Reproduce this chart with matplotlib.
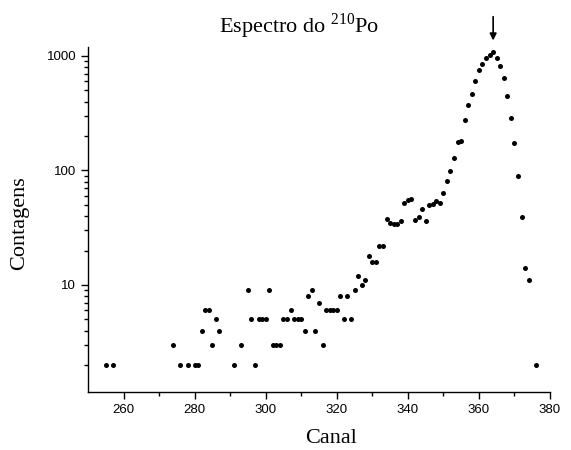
import matplotlib
matplotlib.use('Agg')
import matplotlib.pyplot as plt
from matplotlib.ticker import LogLocator, NullFormatter, FixedLocator

# Channel numbers and counts
canal = [255, 257, 274, 276, 278, 280, 281, 282, 283, 284, 285, 286, 287,
         291, 293, 295, 296, 297, 298, 299, 300, 301, 302, 303, 304, 305,
         306, 307, 308, 309, 310, 311, 312, 313, 314, 315, 316, 317, 318,
         319, 320, 321, 322, 323, 324, 325, 326, 327, 328, 329, 330, 331,
         332, 333, 334, 335, 336, 337, 338, 339, 340, 341, 342, 343, 344,
         345, 346, 347, 348, 349, 350, 351, 352, 353, 354, 355, 356, 357,
         358, 359, 360, 361, 362, 363, 364, 365, 366, 367, 368, 369, 370,
         371, 372, 373, 374, 376]
contagens = [2, 2, 3, 2, 2, 2, 2, 4, 6, 6, 3, 5, 4,
             2, 3, 9, 5, 2, 5, 5, 5, 9, 3, 3, 3, 5,
             5, 6, 5, 5, 5, 4, 8, 9, 4, 7, 3, 6, 6,
             6, 6, 8, 5, 8, 5, 9, 12, 10, 11, 18, 16, 16,
             22, 22, 38, 35, 34, 34, 36, 52, 55, 56, 37, 39, 46,
             36, 50, 51, 54, 52, 64, 81, 98, 129, 176, 182, 276, 371,
             470, 603, 748, 851, 955, 1014, 1077, 960, 822, 636, 448, 288, 175,
             90, 39, 14, 11, 2]

x_ticks = [260, 280, 300, 320, 340, 360, 380]
pico = 364

plt.rcParams['mathtext.fontset'] = 'custom'
plt.rcParams['mathtext.rm'] = 'Liberation Serif'

W, H = 571, 450
fig = plt.figure(figsize=(W / 100, H / 100), dpi=100)
ax = fig.add_axes([88 / W, 1 - 392.3 / H, 462 / W, 345 / H])

ax.plot(canal, contagens, 'o', color='black', markersize=3.6, markeredgewidth=0)

ax.set_yscale('log')
ax.set_xlim(250, 380)
ax.set_ylim(1.156, 1190)

ax.spines['top'].set_visible(False)
ax.spines['right'].set_visible(False)
ax.spines['left'].set_linewidth(1.0)
ax.spines['bottom'].set_linewidth(1.0)

ax.xaxis.set_major_locator(FixedLocator(x_ticks))
ax.xaxis.set_minor_locator(FixedLocator([270, 290, 310, 330, 350, 370]))
ax.yaxis.set_major_locator(FixedLocator([10, 100, 1000]))
ax.yaxis.set_minor_locator(LogLocator(base=10, subs=range(2, 10)))
ax.yaxis.set_minor_formatter(NullFormatter())
ax.set_yticklabels(['10', '100', '1000'])

ax.tick_params(which='major', direction='out', length=5, width=1, labelsize=9.5,
               labelfontfamily='Liberation Sans')
ax.tick_params(which='minor', direction='out', length=3, width=1)

# labels placed in pixel positions of the original figure
fig.text(299.5 / W, 1 - 33 / H, r'Espectro do $^{\mathrm{210}}$Po',
         family='Liberation Serif', fontsize=16, ha='center', va='baseline')
fig.text(331 / W, 1 - 443 / H, 'Canal', family='Liberation Serif',
         fontsize=16, ha='center', va='baseline')
fig.text(20 / W, 1 - 223 / H, 'Contagens', family='Liberation Serif',
         fontsize=16, ha='center', va='center', rotation=90)

# arrow marking the peak
ax.annotate('', xy=(pico, 1290), xytext=(pico, 2330),
            arrowprops=dict(arrowstyle='-|>', color='black', lw=1.2,
                            mutation_scale=10),
            annotation_clip=False)

fig.savefig('out.png', dpi=100)
